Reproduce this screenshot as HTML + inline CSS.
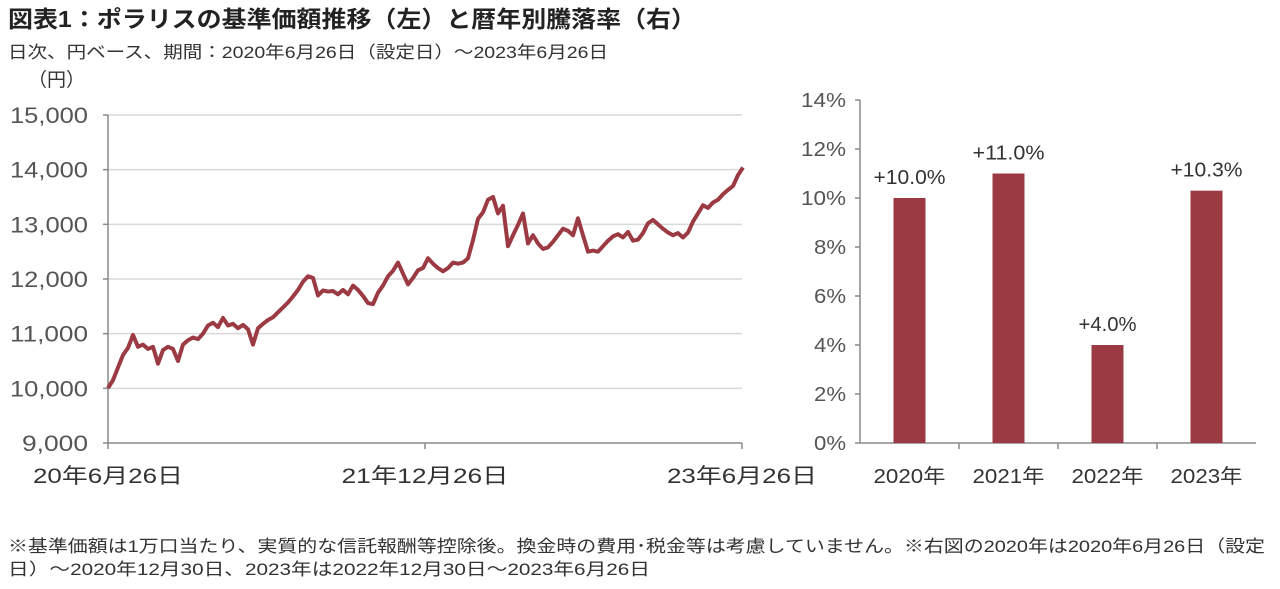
<!DOCTYPE html>
<html><head><meta charset="utf-8"><style>
body{margin:0;background:#fff;width:1280px;height:584px;overflow:hidden;font-family:"Liberation Sans","Noto Sans CJK JP",sans-serif;}
svg text{font-family:"Liberation Sans","Noto Sans CJK JP",sans-serif;}
</style></head><body>
<svg width="1280" height="584">
<text x="8" y="27" font-size="23" font-weight="bold" fill="#222" textLength="688" lengthAdjust="spacingAndGlyphs">図表1：ポラリスの基準価額推移（左）と暦年別騰落率（右）</text>
<text x="8" y="58" font-size="17" fill="#333" textLength="600" lengthAdjust="spacingAndGlyphs">日次、円ベース、期間：2020年6月26日（設定日）～2023年6月26日</text>
<text x="28" y="86" font-size="19" fill="#333">（円）</text>
<g id="left"></g>
<g id="right"></g>
<text x="8" y="552" font-size="17" fill="#333" textLength="1257" lengthAdjust="spacingAndGlyphs">※基準価額は1万口当たり、実質的な信託報酬等控除後。換金時の費用･税金等は考慮していません。※右図の2020年は2020年6月26日（設定</text>
<text x="8" y="575" font-size="17" fill="#333" textLength="642" lengthAdjust="spacingAndGlyphs">日）～2020年12月30日、2023年は2022年12月30日～2023年6月26日</text>
</svg>
<script>
const yTicks=[9000,10000,11000,12000,13000,14000,15000];
const yTickLabels=["9,000","10,000","11,000","12,000","13,000","14,000","15,000"];
const xTickLabels=["20年6月26日","21年12月26日","23年6月26日"];
const prices=[10006,10150,10380,10610,10739,10976,10760,10800,10720,10760,10450,10700,10760,10720,10500,10800,10880,10930,10900,11000,11150,11200,11120,11288,11150,11180,11100,11160,11080,10800,11100,11180,11250,11300,11390,11480,11570,11680,11800,11950,12050,12020,11700,11790,11770,11780,11720,11800,11720,11880,11800,11690,11560,11540,11750,11880,12050,12150,12300,12100,11900,12020,12160,12200,12380,12280,12200,12140,12200,12300,12280,12300,12380,12710,13100,13220,13450,13500,13200,13340,12600,12800,12990,13200,12650,12800,12650,12550,12580,12680,12800,12920,12880,12800,13110,12800,12500,12520,12500,12600,12700,12780,12820,12760,12860,12700,12720,12840,13020,13080,13000,12920,12850,12800,12840,12760,12850,13050,13200,13350,13300,13400,13450,13550,13630,13700,13900,14040];
const years=["2020年","2021年","2022年","2023年"];
const returns=[10.0,11.0,4.0,10.3];
const returnLabels=["+10.0%","+11.0%","+4.0%","+10.3%"];
const pTicks=[0,2,4,6,8,10,12,14];

const NS="http://www.w3.org/2000/svg";
function mk(p,tag,a){const e=document.createElementNS(NS,tag);for(const k in a)e.setAttribute(k,a[k]);p.appendChild(e);return e;}
const L=document.getElementById('left');
const x0=108,x1=742,yTop=115,yBot=443;
const ly=v=>yBot-(v-9000)/6000*(yBot-yTop);
const lx=i=>x0+i/(prices.length-1)*(x1-x0+1);
yTicks.forEach((v,i)=>{
  if(i>0){const g=mk(L,'line',{x1:x0,x2:x1,y1:ly(v),y2:ly(v),stroke:'#d9d9d9','stroke-width':1.5});
  
  }
  const t=mk(L,'line',{x1:x0-5,x2:x0,y1:ly(v),y2:ly(v),stroke:'#888','stroke-width':1.5});
  
  
  const w=yTickLabels[i].length===5?66:78;
  const l=mk(L,'text',{x:88,y:ly(v)+8,'font-size':22,fill:'#555','text-anchor':'end',textLength:w,lengthAdjust:'spacingAndGlyphs'});l.textContent=yTickLabels[i];
  
  
});
const ax=mk(L,'line',{x1:x0,x2:x0,y1:yTop,y2:yBot,stroke:'#888','stroke-width':1.5});


const bx=mk(L,'line',{x1:x0,x2:x1,y1:yBot,y2:yBot,stroke:'#888','stroke-width':1.5});


const xlw=[150,167,150];
xTickLabels.forEach((s,i)=>{
  const xx=x0+i*(x1-x0)/2;
  const t=mk(L,'line',{x1:xx,x2:xx,y1:yBot,y2:yBot+6,stroke:'#888','stroke-width':1.5});
  
  
  const l=mk(L,'text',{x:xx-xlw[i]/2,y:483,'font-size':21,fill:'#333',textLength:xlw[i],lengthAdjust:'spacingAndGlyphs'});l.textContent=s;
  
  
});
const pl=mk(L,'polyline',{points:prices.map((v,i)=>lx(i)+','+ly(v)).join(' '),fill:'none',stroke:'#9c3a43','stroke-width':4,'stroke-linejoin':'round'});



const R=document.getElementById('right');
const rx0=860,rx1=1256,rTop=100,rBot=443;
const ry=v=>rBot-v/14*(rBot-rTop);
pTicks.forEach(v=>{
  const t=mk(R,'line',{x1:rx0-5,x2:rx0,y1:ry(v),y2:ry(v),stroke:'#888','stroke-width':1.5});
  
  
  const w=v>=10?45:32;
  const l=mk(R,'text',{x:846,y:ry(v)+7,'font-size':20,fill:'#555','text-anchor':'end',textLength:w,lengthAdjust:'spacingAndGlyphs'});l.textContent=v+'%';
  
  
});
const ray=mk(R,'line',{x1:rx0,x2:rx0,y1:rTop,y2:rBot,stroke:'#888','stroke-width':1.5});


const rbx=mk(R,'line',{x1:rx0,x2:rx1,y1:rBot,y2:rBot,stroke:'#888','stroke-width':1.5});


const band=(rx1-rx0)/years.length;
years.forEach((y,i)=>{
  const cx=rx0+band*(i+0.5);
  const b=mk(R,'rect',{x:cx-16,y:ry(returns[i]),width:32,height:rBot-ry(returns[i]),fill:'#9c3a43'});
  
  
  const vw=returnLabels[i].length>5?72:58;
  const v=mk(R,'text',{x:cx-vw/2,y:ry(returns[i])-14,'font-size':20,fill:'#333',textLength:vw,lengthAdjust:'spacingAndGlyphs'});v.textContent=returnLabels[i];
  
  
  const l=mk(R,'text',{x:cx-36,y:483,'font-size':20,fill:'#333',textLength:72,lengthAdjust:'spacingAndGlyphs'});l.textContent=y;
  
  
  if(i>0){const t=mk(R,'line',{x1:rx0+band*i,x2:rx0+band*i,y1:rBot,y2:rBot+6,stroke:'#888','stroke-width':1.5});
  
  }
});
</script>
</body></html>
